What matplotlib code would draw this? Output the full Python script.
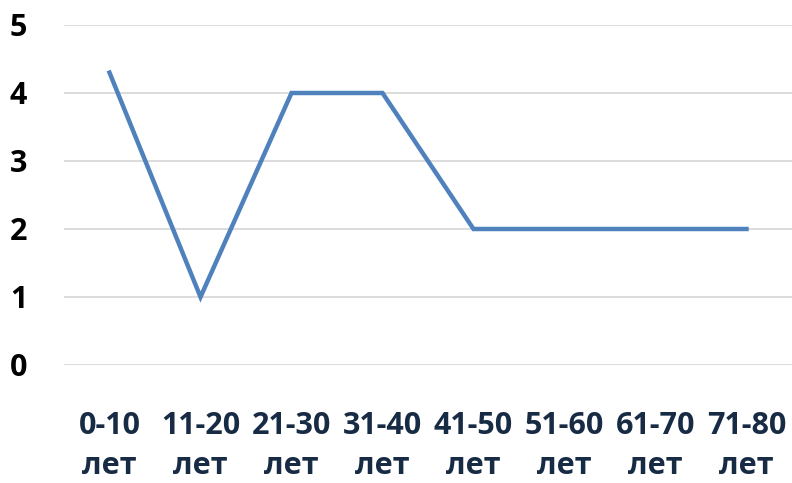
import matplotlib
matplotlib.use("Agg")
import matplotlib.pyplot as plt

categories = ["0-10\nлет", "11-20\nлет", "21-30\nлет", "31-40\nлет",
              "41-50\nлет", "51-60\nлет", "61-70\nлет", "71-80\nлет"]
values = [4.3, 1, 4, 4, 2, 2, 2, 2]
yticks = [0, 1, 2, 3, 4, 5]

plt.rcParams['font.family'] = ['Open Sans', 'DejaVu Sans']

fig = plt.figure(figsize=(7.92, 4.83), dpi=100)
ax = fig.add_axes([64/792, (483-365)/483, (792-64)/792, (365-25)/483])

x = list(range(len(categories)))
ax.plot(x, values, color="#4F81BD", linewidth=3.2, solid_joinstyle="miter")

ax.set_xlim(-0.5, len(categories) - 0.5)
ax.set_ylim(0, 5)
ax.set_yticks(yticks)
ax.set_yticklabels([str(t) for t in yticks], fontsize=22, fontweight="bold", color="black")
ax.set_xticks(x)
ax.set_xticklabels(categories, fontsize=22, fontweight="bold", color="#172B45", linespacing=1.45)
ax.tick_params(axis="both", length=0)
ax.tick_params(axis="y", pad=39)
ax.tick_params(axis="x", pad=33)
for lab in ax.get_yticklabels():
    lab.set_horizontalalignment("left")
ax.grid(axis="y", color="#D9D9D9", linewidth=1.3)
ax.set_axisbelow(True)
for s in ax.spines.values():
    s.set_visible(False)

fig.savefig("out.png", dpi=100)
